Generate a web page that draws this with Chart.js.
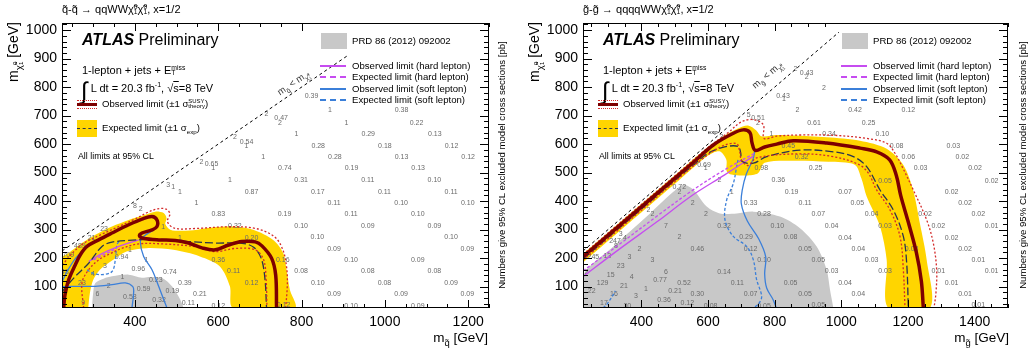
<!DOCTYPE html>
<html>
<head>
<meta charset="utf-8">
<script src="https://cdn.jsdelivr.net/npm/chart.js@4.4.0/dist/chart.umd.min.js"></script>
<style>
body { margin: 0; background: #fff; width: 1030px; height: 354px; overflow: hidden; position: relative;
       font-family: "Liberation Sans", Arial, Helvetica, sans-serif; color: #000; }
canvas { position: absolute; top: 0; }
.t { position: absolute; white-space: nowrap; line-height: 1; }
.st { display: inline-block; vertical-align: middle; line-height: 0.85em; font-size: 0.62em; text-align: left; position: relative; top: -0.1em; }
.st b { display: block; font-weight: normal; }
.rot { position: absolute; white-space: nowrap; line-height: 1; transform-origin: 0 0; transform: rotate(-90deg); }
.diag { position: absolute; white-space: nowrap; line-height: 1; font-size: 9.5px; color: #333; }
.box { position: absolute; }
</style>
</head>
<body>
<canvas id="sq" width="515" height="354" style="left:0"></canvas>
<canvas id="gl" width="510" height="354" style="left:520px"></canvas>
<div id="over"></div>

<script>
// ---- axes ----
const yTicks = [100, 200, 300, 400, 500, 600, 700, 800, 900, 1000];
const sqXTicks = [400, 600, 800, 1000, 1200];
const glXTicks = [400, 600, 800, 1000, 1200, 1400];

// ---- squark-squark panel (left), [m_squark, m_LSP] ----
const sqDiag = [[225, 225], [1025, 1025]];
const sqPrd = [[297,25],[300,80],[305,113],[325,128],[345,136],[385,142],[417,131],[433,134],[465,130],[489,101],[509,54],[517,25]];
const sqBandOuter = [[225,25],[225,200],[241,218],[273,253],[305,282],[345,311],[385,334],[425,352],[449,363],[469,358],[476,340],[473,320],[485,300],[513,296],[550,300],[590,308],[636,311],[684,300],[732,264],[756,218],[764,159],[772,89],[784,25]];
const sqBandInner = [[636,25],[628,101],[604,171],[556,206],[492,229],[428,235],[380,223],[348,194],[316,159],[300,124],[292,78],[288,25]];
const sqObs = [[229,25],[232,70],[241,124],[257,177],[269,212],[285,241],[313,264],[345,288],[385,317],[417,337],[441,346],[453,334],[453,311],[441,299],[417,288],[411,278],[420,270],[457,264],[497,262],[529,253],[561,236],[593,229],[625,246],[657,258],[689,257],[705,243],[728,200],[738,140],[740,25]];
const sqObsUp = [[226,175],[245,210],[275,250],[315,280],[360,310],[400,337],[430,360],[455,373],[475,372],[484,355],[478,328],[495,305],[545,304],[625,310],[690,304],[735,275],[755,230],[764,170],[766,110],[762,25]];
const sqObsDown = [[277,25],[273,113],[289,159],[313,194],[340,215],[370,235],[409,250],[465,250],[545,240],[593,223],[641,234],[689,229],[709,194],[715,124],[717,25]];
const sqExp = [[226,80],[229,89],[257,136],[289,182],[321,241],[345,256],[385,262],[449,266],[529,258],[593,253],[657,252],[685,238],[703,200],[712,130],[716,25]];
const sqHardObs = [[289,188],[320,215],[360,240],[409,264]];
const sqHardExp = [[301,194],[330,215],[357,235]];
const sqSoftObsA = [[226,100],[265,101],[305,101],[345,107],[377,113],[395,100],[397,80],[393,25]];
const sqSoftObsB = [[445,299],[420,275],[413,258],[421,206],[441,159],[457,101],[477,25]];
const sqSoftObsC = [[226,120],[240,160],[258,200],[280,232]];
const sqSoftExp = [[285,159],[297,148],[321,142],[345,153],[353,194],[357,247],[365,264]];
const sqNumbers = [
  [824,768,'0.39'],[868,719,'1'],[1040,719,'0.38'],
  [716,704,'2'],[751,690,'0.47'],[748,675,'2'],[908,675,'1'],[1076,675,'0.22'],
  [788,635,'1'],[960,635,'0.29'],[1120,635,'0.13'],
  [640,626,'2'],[668,608,'0.54'],[668,594,'1'],[840,594,'0.28'],[1000,594,'0.18'],[1160,594,'0.12'],
  [708,556,'1'],[880,556,'0.28'],[1040,556,'0.13'],[1200,556,'0.12'],
  [560,538,'2'],[584,529,'0.65'],[588,515,'1'],[760,515,'0.74'],[920,515,'0.19'],[1080,515,'0.13'],
  [628,474,'1'],[799,474,'0.31'],[959,474,'0.11'],[1119,474,'0.10'],[480,457,'3'],[492,451,'1'],
  [508,433,'1'],[680,433,'0.87'],[839,433,'0.17'],[999,433,'0.11'],[1159,433,'0.11'],
  [548,393,'1'],[878,393,'0.11'],[1039,393,'0.10'],[1199,393,'0.10'],[400,381,'8'],[414,372,'2'],
  [600,354,'0.83'],[759,354,'0.19'],[919,354,'0.11'],[1079,354,'0.10'],
  [640,313,'0.32'],[799,313,'0.10'],[959,313,'0.09'],[1119,313,'0.09'],[326,302,'23'],[468,309,'1'],
  [296,270,'21'],[508,272,'1'],[680,272,'0.20'],[838,274,'0.10'],[1159,274,'0.10'],
  [268,243,'489'],[388,229,'1'],[878,232,'0.09'],[1198,232,'0.09'],
  [240,209,'709'],[368,204,'0.94'],[428,194,'1'],[600,194,'0.36'],[755,194,'0.16'],[919,194,'0.10'],[1079,194,'0.09'],
  [232,151,'48'],[328,173,'3'],[299,145,'4'],[408,161,'0.96'],[484,151,'0.74'],[637,153,'0.11'],[799,153,'0.08'],[959,153,'0.08'],[1119,153,'0.08'],
  [273,113,'23'],[370,133,'1'],[450,123,'0.23'],[520,113,'0.39'],[680,113,'0.12'],[839,113,'0.10'],[999,113,'0.08'],[1159,113,'0.09'],
  [337,101,'2'],[310,75,'6'],[421,92,'0.59'],[490,85,'0.19'],[556,74,'0.21'],[878,74,'0.09'],[1039,74,'0.09'],[1198,74,'0.09'],
  [276,42,'9'],[388,65,'0.58'],[458,54,'0.32'],[528,42,'0.11'],[600,32,'0.12'],[757,34,'0.12'],[919,33,'0.10'],[1079,33,'0.09']
];

// ---- gluino-gluino panel (right), [m_gluino, m_LSP] ----
const glDiag = [[225, 225], [1025, 1025]];
const glPrd = [[225,25],[225,140],[316,241],[416,346],[496,433],[526,457],[556,440],[596,381],[636,357],[686,357],[736,363],[816,346],[876,305],[926,241],[956,159],[966,89],[976,25]];
const glBandOuter = [[225,215],[300,290],[400,390],[500,490],[600,590],[650,630],[690,655],[720,665],[745,648],[760,628],[806,632],[856,630],[956,624],[1056,612],[1136,584],[1186,527],[1215,440],[1236,320],[1256,194],[1266,25]];
const glBandInner = [[1141,25],[1136,194],[1116,311],[1076,416],[1060,480],[1040,528],[960,538],[860,542],[770,535],[750,498],[715,490],[670,493],[656,505],[655,545],[635,575],[600,560],[500,460],[400,360],[300,260],[225,185]];
const glObs = [[225,205],[300,280],[400,380],[500,480],[560,540],[616,597],[676,638],[706,650],[726,640],[732,605],[742,578],[770,590],[806,600],[856,612],[956,604],[1056,586],[1106,573],[1145,545],[1165,490],[1178,420],[1200,330],[1225,220],[1240,120],[1246,25]];
const glObsUp = [[225,213],[300,288],[400,388],[500,488],[600,588],[660,640],[700,678],[736,686],[766,668],[768,620],[806,628],[876,632],[976,631],[1076,620],[1136,603],[1161,568],[1185,515],[1216,439],[1256,334],[1276,252],[1286,159],[1284,80],[1278,25]];
const glObsDown = [[225,193],[300,268],[400,368],[500,468],[580,545],[640,592],[685,602],[695,575],[700,545],[720,525],[746,552],[876,566],[976,556],[1050,530],[1080,500],[1106,439],[1146,369],[1176,276],[1186,159],[1191,25]];
const glExp = [[225,197],[300,272],[400,372],[500,472],[560,530],[600,568],[650,590],[690,592],[698,570],[702,540],[736,533],[776,556],[876,579],[976,573],[1036,556],[1076,521],[1116,439],[1156,369],[1186,276],[1196,183],[1201,25]];
const glHardObs = [[225,135],[330,228],[450,330],[550,418],[650,492],[736,558]];
const glHardExp = [[225,155],[330,245],[450,350],[550,435],[650,510],[740,568]];
const glSoftObs = [[740,578],[736,550],[715,495],[703,440],[700,390],[718,330],[752,268],[773,205],[770,145],[776,95],[795,55],[805,25]];
const glSoftExp = [[690,545],[686,521],[676,462],[656,404],[651,334],[676,276],[716,241],[736,194],[746,124],[761,66],[752,40],[736,25]];
const glSoftExpLow = [[285,25],[296,37],[316,72],[322,85]];
const glNumbers = [
  [862,865,'2'],[896,850,'0.43'],[896,836,'2'],[948,795,'2'],[825,770,'0.43'],[828,757,'1'],
  [868,719,'2'],[1041,719,'0.42'],[1201,719,'0.12'],
  [722,702,'5'],[750,690,'0.51'],[750,675,'2'],[918,675,'0.61'],[1082,675,'0.25'],
  [790,637,'1'],[963,637,'0.34'],[1123,637,'0.10'],
  [640,626,'3'],[841,594,'0.45'],[1166,594,'0.08'],[1336,594,'0.03'],
  [881,553,'0.32'],[1201,553,'0.06'],[1363,553,'0.02'],
  [588,527,'0.69'],[593,515,'1'],[760,515,'0.98'],[923,515,'0.25'],[1238,515,'0.03'],[1401,515,'0.02'],
  [634,474,'2'],[811,474,'0.36'],[1131,472,'0.05'],[1451,472,'0.02'],
  [514,449,'0.72'],[514,433,'2'],[671,433,'1'],[851,433,'0.19'],[1011,433,'0.07'],[1331,433,'0.02'],
  [554,393,'2'],[728,393,'0.33'],[891,393,'0.11'],[1048,393,'0.05'],[1371,393,'0.02'],
  [421,369,'2'],[433,355,'2'],[594,355,'2'],[768,355,'0.28'],[931,354,'0.07'],[1091,354,'0.04'],[1251,354,'0.02'],[1411,354,'0.02'],
  [474,311,'7'],[648,311,'0.32'],[808,311,'0.10'],[971,313,'0.04'],[1131,313,'0.03'],[1291,313,'0.02'],[1451,313,'0.01'],
  [338,285,'3'],[351,272,'4'],[321,261,'247'],[324,243,'8'],[514,274,'2'],[714,274,'0.29'],[848,274,'0.08'],[1011,272,'0.04'],[1331,272,'0.02'],
  [394,232,'2'],[568,232,'0.46'],[728,232,'0.12'],[891,232,'0.05'],[1051,232,'0.04'],[1211,232,'0.03'],[1371,232,'0.02'],
  [256,202,'245'],[298,208,'13'],[364,202,'3'],[433,194,'3'],[768,194,'0.10'],[931,194,'0.05'],[1091,194,'0.03'],[1411,194,'0.01'],
  [338,171,'23'],[474,150,'6'],[648,150,'0.14'],[971,153,'0.03'],[1131,153,'0.03'],[1291,153,'0.01'],[1451,153,'0.01'],
  [308,142,'15'],[371,134,'4'],[456,124,'0.77'],[236,150,'2'],
  [284,113,'129'],[348,103,'21'],[414,92,'1'],[528,113,'0.52'],[688,113,'0.11'],[848,113,'0.05'],[1011,113,'0.04'],[1331,113,'0.01'],
  [251,83,'22'],[318,74,'16'],[384,66,'3'],[501,83,'0.21'],[568,74,'0.30'],[728,74,'0.07'],[891,75,'0.05'],[1051,75,'0.04'],[1371,75,'0.01'],
  [468,52,'0.36'],[288,43,'17'],[358,33,'30'],[538,43,'0.12'],[608,33,'0.08'],[768,33,'0.05'],[931,37,'0.05'],[1411,37,'0.01']
];

// colours
const YELLOW = '#ffd500', GREY = '#c8c8c8', OBS = '#7d0000', THEO = '#d42a2a', EXP = '#28344f';
const HARD = '#c64cf0', SOFT = '#3b7fd9';
const FONT = '"Liberation Sans", Arial, Helvetica, sans-serif';
Chart.defaults.font.family = FONT;

function pts(a) { return a.map(([x, y]) => ({x, y})); }
function line(data, color, width, dash, order) {
  return { data: pts(data), borderColor: color, borderWidth: width, borderDash: dash || [],
           showLine: true, pointRadius: 0, fill: false, tension: 0.35, order: order };
}
function area(label, data, color, order) {
  return { label: label, data: pts(data), backgroundColor: color, borderColor: 'rgba(0,0,0,0)', borderWidth: 0,
           showLine: true, pointRadius: 0, fill: 'shape', tension: 0.3, order: order };
}

// frame with inward ticks + grey cross-section numbers
function atlasFrame(numbers) {
  return {
    id: 'atlasFrame',
    afterDatasetDraw(chart, args) {
      if (chart.data.datasets[args.index].label !== 'PRD') return;
      const {ctx, chartArea: a, scales: {x, y}} = chart;
      ctx.save();
      ctx.beginPath(); ctx.rect(a.left, a.top, a.width, a.height); ctx.clip();
      ctx.fillStyle = '#6b6b6b';
      ctx.font = '7px ' + FONT;
      ctx.textAlign = 'center'; ctx.textBaseline = 'middle';
      numbers.forEach(([mx, my, t]) => ctx.fillText(t, x.getPixelForValue(mx), y.getPixelForValue(my)));
      ctx.restore();
    },
    afterDraw(chart) {
      const {ctx, chartArea: a, scales: {x, y}} = chart;
      ctx.save();
      ctx.strokeStyle = '#000'; ctx.lineWidth = 1;
      ctx.strokeRect(a.left + 0.5, a.top + 0.5, a.width - 1, a.height - 1);
      ctx.beginPath();
      for (let v = Math.ceil(x.min / 50) * 50; v <= x.max; v += 50) {
        const px = Math.round(x.getPixelForValue(v)) + 0.5;
        const len = v % 200 === 0 ? 8 : 4;
        ctx.moveTo(px, a.bottom); ctx.lineTo(px, a.bottom - len);
        ctx.moveTo(px, a.top); ctx.lineTo(px, a.top + len);
      }
      for (let v = 40; v <= y.max; v += 20) {
        const py = Math.round(y.getPixelForValue(v)) + 0.5;
        const len = v % 100 === 0 ? 9 : 5;
        ctx.moveTo(a.left, py); ctx.lineTo(a.left + len, py);
        ctx.moveTo(a.right, py); ctx.lineTo(a.right - len, py);
      }
      ctx.stroke();
      ctx.restore();
    }
  };
}

function makeChart(id, xmax, xTicks, yWidth, padRight, d, numbers) {
  return new Chart(document.getElementById(id), {
    type: 'scatter',
    data: {
      datasets: [
        line(d.obs, OBS, 3.5, [], 0),
        line(d.obsUp, THEO, 1.3, [2, 2], 1),
        line(d.obsDown, THEO, 1.3, [2, 2], 1),
        line(d.exp, EXP, 1.3, [8, 3], 2),
        ...d.hardObs.map(s => line(s, HARD, 1.3, [], 3)),
        ...d.hardExp.map(s => line(s, HARD, 1.3, [3, 2], 3)),
        ...d.softObs.map(s => line(s, SOFT, 1.3, [], 3)),
        ...d.softExp.map(s => line(s, SOFT, 1.3, [3, 2], 3)),
        line(d.diag, '#000', 1, [3, 3], 4),
        area('PRD', d.prd, GREY, 5),
        area('band', d.band, YELLOW, 6)
      ]
    },
    options: {
      responsive: false,
      animation: false,
      layout: { padding: { top: 23, right: padRight, left: 0, bottom: 0 } },
      plugins: { legend: { display: false }, tooltip: { enabled: false } },
      scales: {
        x: {
          type: 'linear', min: 225, max: xmax,
          grid: { display: false, drawTicks: false }, border: { display: false },
          afterBuildTicks: s => { s.ticks = xTicks.map(v => ({ value: v })); },
          afterFit: s => { s.height = 46; },
          ticks: { color: '#000', font: { size: 14 }, padding: 6, maxRotation: 0, autoSkip: false,
                   callback: v => String(v) }
        },
        y: {
          type: 'linear', min: 25, max: 1025,
          grid: { display: false, drawTicks: false }, border: { display: false },
          afterBuildTicks: s => { s.ticks = yTicks.map(v => ({ value: v })); },
          afterFit: s => { s.width = yWidth; },
          ticks: { color: '#000', font: { size: 14 }, padding: 5, autoSkip: false,
                   callback: v => String(v) }
        }
      }
    },
    plugins: [atlasFrame(numbers)]
  });
}

makeChart('sq', 1250, sqXTicks, 62, 26, {
  obs: sqObs, obsUp: sqObsUp, obsDown: sqObsDown, exp: sqExp,
  hardObs: [sqHardObs], hardExp: [sqHardExp],
  softObs: [sqSoftObsA, sqSoftObsB, sqSoftObsC], softExp: [sqSoftExp],
  diag: sqDiag, prd: sqPrd, band: sqBandOuter.concat(sqBandInner)
}, sqNumbers);

makeChart('gl', 1500, glXTicks, 63, 22, {
  obs: glObs, obsUp: glObsUp, obsDown: glObsDown, exp: glExp,
  hardObs: [glHardObs], hardExp: [glHardExp],
  softObs: [glSoftObs], softExp: [glSoftExp, glSoftExpLow],
  diag: glDiag, prd: glPrd, band: glBandOuter.concat(glBandInner)
}, glNumbers);

// ---- text overlays (legends, titles) ----
const chi = 'χ&#771;<span class="st"><b>0</b><b>1</b></span>';
function panel(dx, title, sparticle, diagAngle, diagX, diagY) {
  const L = (x) => (x + dx) + 'px';
  return `
  <div class="t" style="left:${L(62)};top:4px;font-size:11px">${title}</div>
  <div class="rot" style="left:${L(6)};top:${22 + 120}px;width:120px;text-align:right;font-size:14px">m<sub style="font-size:0.7em">${chi}</sub> [GeV]</div>
  <div class="t" style="left:${L(380)};top:331px;width:108px;text-align:right;font-size:13.5px">m<sub style="font-size:0.7em">${sparticle}&#771;</sub> [GeV]</div>
  <div class="rot" style="left:${L(497)};top:315px;width:300px;text-align:center;font-size:9.6px">Numbers give 95% CL excluded model cross sections [pb]</div>

  <div class="t" style="left:${L(82)};top:32px;font-size:16px"><b><i>ATLAS</i></b> Preliminary</div>
  <div class="t" style="left:${L(82)};top:65px;font-size:11px">1-lepton + jets + E<span class="st"><b>miss</b><b>T</b></span></div>
  <div class="t" style="left:${L(81)};top:79px;font-size:11px"><span style="font-size:24px;vertical-align:-7px">&#8747;</span> L dt = 20.3 fb<sup style="font-size:0.65em">-1</sup>, &#8730;<span style="text-decoration:overline">s</span>=8 TeV</div>

  <div class="box" style="left:${L(77)};top:100px;width:20px;border-top:1px dotted ${THEO}"></div>
  <div class="box" style="left:${L(77)};top:102.5px;width:20px;height:3px;background:${OBS}"></div>
  <div class="box" style="left:${L(77)};top:107.5px;width:20px;border-top:1px dotted ${THEO}"></div>
  <div class="t" style="left:${L(102)};top:99px;font-size:9.6px">Observed limit (&#177;1 &#963;<span class="st"><b>SUSY</b><b>theory</b></span>)</div>

  <div class="box" style="left:${L(77)};top:120px;width:20px;height:17px;background:${YELLOW}"></div>
  <div class="box" style="left:${L(77)};top:128px;width:20px;border-top:1.5px dashed ${EXP}"></div>
  <div class="t" style="left:${L(102)};top:123px;font-size:9.6px">Expected limit (&#177;1 &#963;<sub style="font-size:0.65em">exp</sub>)</div>

  <div class="t" style="left:${L(78)};top:152px;font-size:8.8px">All limits at 95% CL</div>

  <div class="box" style="left:${L(318)};top:24px;width:160px;height:31px;background:#fff"></div>
  <div class="box" style="left:${L(321)};top:33px;width:26px;height:16px;background:${GREY}"></div>
  <div class="t" style="left:${L(352)};top:36px;font-size:9.6px">PRD 86 (2012) 092002</div>
  <div class="box" style="left:${L(320)};top:65px;width:26px;height:2px;background:${HARD}"></div>
  <div class="t" style="left:${L(352)};top:61px;font-size:9.6px">Observed limit (hard lepton)</div>
  <div class="box" style="left:${L(320)};top:76px;width:26px;border-top:2px dashed ${HARD}"></div>
  <div class="t" style="left:${L(352)};top:72px;font-size:9.6px">Expected limit (hard lepton)</div>
  <div class="box" style="left:${L(320)};top:88px;width:26px;height:2px;background:${SOFT}"></div>
  <div class="t" style="left:${L(352)};top:84px;font-size:9.6px">Observed limit (soft lepton)</div>
  <div class="box" style="left:${L(320)};top:98.5px;width:26px;border-top:2px dashed ${SOFT}"></div>
  <div class="t" style="left:${L(352)};top:94.5px;font-size:9.6px">Expected limit (soft lepton)</div>

  <div class="diag" style="left:${diagX}px;top:${diagY}px;transform:translate(-50%,-50%) rotate(${diagAngle}deg)">m<sub style="font-size:0.7em">${sparticle}&#771;</sub> &lt; m<sub style="font-size:0.7em">${chi}</sub></div>`;
}

document.getElementById('over').innerHTML =
  panel(0, `q&#771;-q&#771; &#8594; qqWW${chi}${chi}, x=1/2`, 'q', -34.4, 294, 84) +
  panel(521, `g&#771;-g&#771; &#8594; qqqqWW${chi}${chi}, x=1/2`, 'g', -40.6, 768, 76);
</script>
</body>
</html>
